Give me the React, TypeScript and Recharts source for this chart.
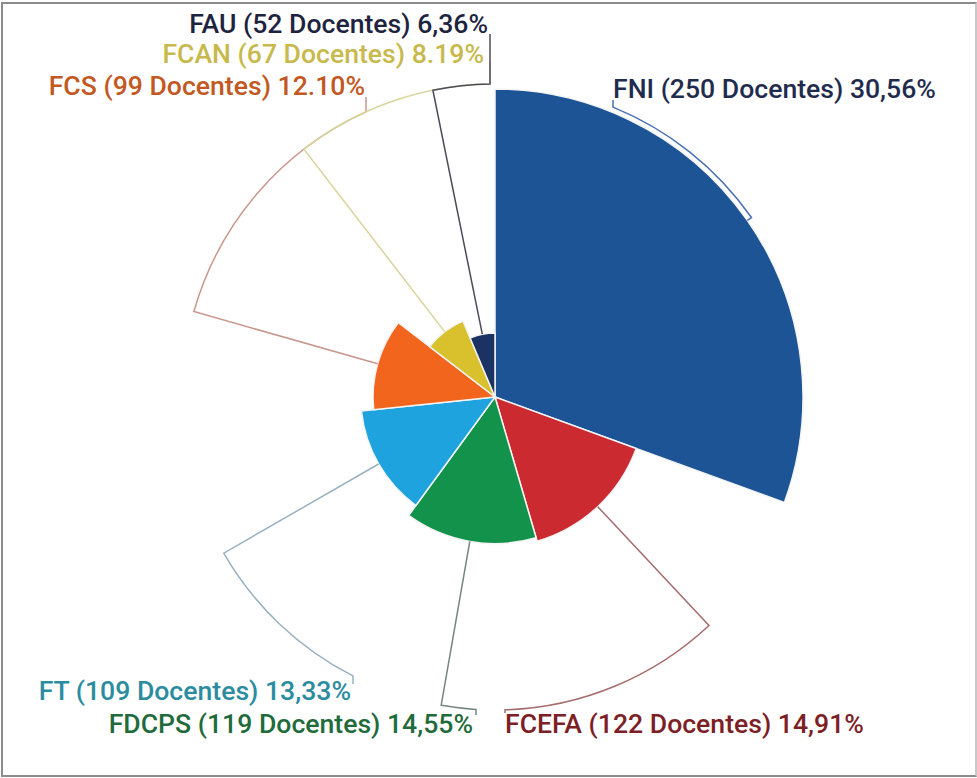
import { PieChart, Pie, Cell } from 'recharts'

const faculties = ['FNI', 'FCEFA', 'FDCPS', 'FT', 'FCS', 'FCAN', 'FAU']
const docentes = [250, 122, 119, 109, 99, 67, 52]
const percents = ['30,56%', '14,91%', '14,55%', '13,33%', '12.10%', '8.19%', '6,36%']

const fillColors = ['#1c5496', '#cb2a31', '#13924b', '#1fa3df', '#f1661c', '#d8c12c', '#1b3362']
const leaderColors = ['#4a70b4', '#a56c6c', '#74867d', '#98b2bf', '#c9968c', '#d9d49c', '#4b4c58']
const labelColors = ['#1f2c4e', '#7c2026', '#1f6b3b', '#2b8c9f', '#c25822', '#c7b94c', '#1e2440']

// label text: x, baseline, anchor, where the leader arc meets it (x) and where its tick stops (y)
const labelLayout: [number, number, 'start' | 'end', number, number][] = [
    [613, 98, 'start', 613, 100],
    [505, 733, 'start', 505, 713],
    [473, 733, 'end', 476, 715],
    [351, 700, 'end', 353, 684],
    [365, 95, 'end', 366, 97],
    [484, 63, 'end', 490, 62],
    [488, 33, 'end', 490, 34],
]

const CX = 490
const CY = 392
const LEADER_R = 313
const MAX_R = 308
const RAD = Math.PI / 180

const data = faculties.map((name, i) => ({ name, value: docentes[i] }))
const maxValue = Math.max(...docentes)

function makeLabel(k: number) {
    return (props: any) => {
        if (props.index !== k) return null
        const { cx, cy, midAngle, outerRadius } = props
        const [tx, ty, anchor, ax, tickY] = labelLayout[k]
        const a0 = -midAngle * RAD
        const x0 = cx + outerRadius * Math.cos(a0)
        const y0 = cy + outerRadius * Math.sin(a0)
        const x1 = cx + LEADER_R * Math.cos(a0)
        const y1 = cy + LEADER_R * Math.sin(a0)
        const dx = ax - cx
        const dy = Math.sqrt(Math.max(LEADER_R * LEADER_R - dx * dx, 0)) * (ty < cy ? -1 : 1)
        const a1 = Math.atan2(dy, dx)
        let delta = a1 - a0
        while (delta > Math.PI) delta -= 2 * Math.PI
        while (delta < -Math.PI) delta += 2 * Math.PI
        const sweep = delta > 0 ? 1 : 0
        const x2 = cx + dx
        const y2 = cy + dy
        const d = `M${x0},${y0}L${x1},${y1}A${LEADER_R},${LEADER_R} 0 0 ${sweep} ${x2},${y2}L${x2},${tickY}`
        return (
            <g>
                <path d={d} fill="none" stroke={leaderColors[k]} strokeWidth={1.5} />
                <text
                    x={tx}
                    y={ty}
                    fill={labelColors[k]}
                    fontFamily="Roboto"
                    fontWeight={500}
                    fontSize={26.6}
                    textAnchor={anchor}
                >
                    {`${faculties[k]} (${docentes[k]} Docentes) ${percents[k]}`}
                </text>
            </g>
        )
    }
}

export default function App() {
    return (
        <div style={{ position: 'absolute', left: 0, top: 0, width: 977, height: 778, background: '#fff' }}>
            <div
                style={{
                    position: 'absolute',
                    left: 1,
                    top: 2,
                    width: 972,
                    height: 771,
                    border: '2px solid #8c8c8c',
                    borderRightColor: '#c8c8c8',
                }}
            />
            <PieChart width={977} height={778} style={{ position: 'absolute', left: 0, top: 0 }}>
                {data.map((slice, k) => (
                    <Pie
                        key={'fill-' + slice.name}
                        data={data}
                        dataKey="value"
                        cx={CX}
                        cy={CY}
                        outerRadius={(slice.value / maxValue) * MAX_R}
                        startAngle={90}
                        endAngle={-270}
                        label={makeLabel(k)}
                        labelLine={false}
                        isAnimationActive={false}
                    >
                        {data.map((d, j) => (
                            <Cell
                                key={d.name}
                                fill={j === k ? fillColors[j] : 'none'}
                                stroke={j === k ? '#f4f4f4' : 'none'}
                                strokeWidth={j === k ? 1.5 : 0}
                            />
                        ))}
                    </Pie>
                ))}
            </PieChart>
        </div>
    )
}
